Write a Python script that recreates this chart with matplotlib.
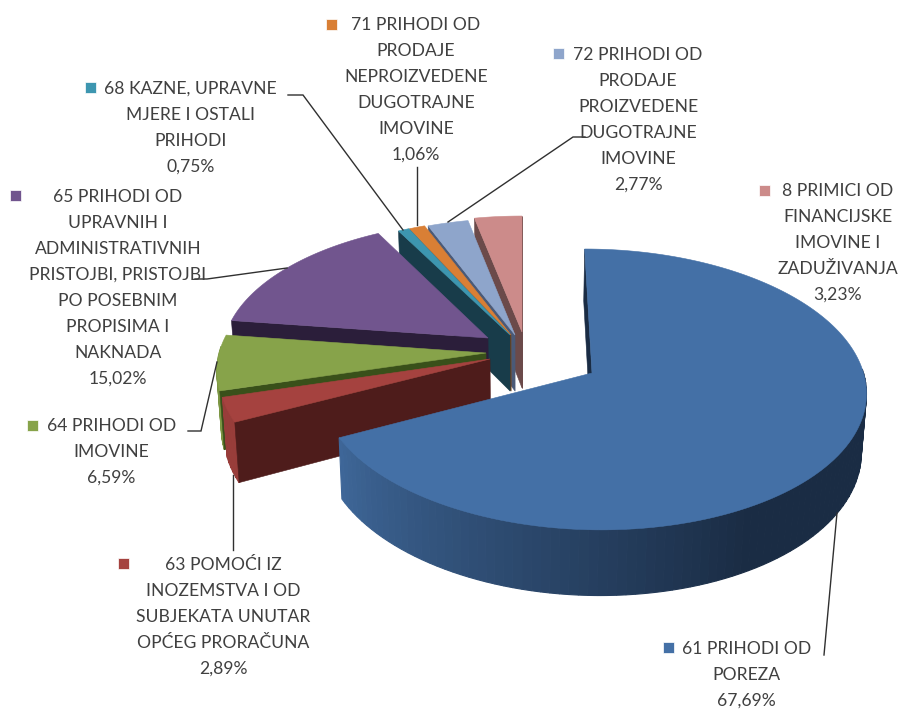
import numpy as np
import matplotlib
matplotlib.use("Agg")
import matplotlib.pyplot as plt
from matplotlib.colors import to_rgb
from matplotlib.patches import Polygon, Rectangle

# datos del grafico
names = [
    ["61 PRIHODI OD", "POREZA"],
    ["63 POMOĆI IZ", "INOZEMSTVA I OD", "SUBJEKATA UNUTAR", "OPĆEG PRORAČUNA"],
    ["64 PRIHODI OD", "IMOVINE"],
    ["65 PRIHODI OD", "UPRAVNIH I", "ADMINISTRATIVNIH", "PRISTOJBI, PRISTOJBI", "PO POSEBNIM", "PROPISIMA I", "NAKNADA"],
    ["68 KAZNE, UPRAVNE", "MJERE I OSTALI", "PRIHODI"],
    ["71 PRIHODI OD", "PRODAJE", "NEPROIZVEDENE", "DUGOTRAJNE", "IMOVINE"],
    ["72 PRIHODI OD", "PRODAJE", "PROIZVEDENE", "DUGOTRAJNE", "IMOVINE"],
    ["8 PRIMICI OD", "FINANCIJSKE", "IMOVINE I", "ZADUŽIVANJA"],
]
values = [67.69, 2.89, 6.59, 15.02, 0.75, 1.06, 2.77, 3.23]

# estilo
top_colors = ["#4470a6", "#a5423f", "#87a34a", "#71558e", "#3d96b0", "#d97f35", "#8ea5cb", "#cc8b8a"]
face_colors = ["#1a2c44", "#4e1c1b", "#39501a", "#2b1e3a", "#183c4a", "#7a4519", "#4a5a78", "#6b4a4a"]
apex = [(592, 373), (490, 359), (486, 353), (488, 338), (510, 335), (511, 335), (515, 335), (522, 332)]
label_pos = [(746.5, 649), (223, 565), (111.5, 426), (118, 197), (190.5, 89), (416, 25), (638, 54.5), (838, 191)]
key_pos = [(668, 647), (123, 563), (32, 425), (15, 195), (90, 87), (331, 24), (558, 53), (764, 190)]
leaders = [
    [(837, 513), (824, 655)],
    [(233, 475), (233, 550)],
    [(217, 362), (201, 431), (188, 431)],
    [(287, 268), (207, 279), (195, 279)],
    [(288, 95), (303, 95), (403, 230)],
    [(417, 167), (417, 225)],
    [(448, 222), (573, 137), (585, 137)],
]

# proyeccion en perspectiva
VX, HY = 522.0, 373.0
RX, RY, K, DEPTH = 271.5, 138.5, 0.117, 58.0
LINE = 26.0


def project(u, v):
    s = 1.0 / (1.0 + K * v)
    return VX + RX * u * s, HY - RY * v * s, s


def unproject(x, y):
    t = (HY - y) / RY
    v = t / (1.0 - K * t)
    s = 1.0 / (1.0 + K * v)
    return (x - VX) / (RX * s), v


def drop(x, y, s):
    return VX + (x - VX) * 0.985, y + DEPTH * s


def mix(a, b, t):
    a, b = np.array(to_rgb(a)), np.array(to_rgb(b))
    return tuple(a + (b - a) * t)


fig = plt.figure(figsize=(9, 7.09), dpi=100)
ax = fig.add_axes([0, 0, 1, 1])
ax.set_xlim(0, 900)
ax.set_ylim(709, 0)
ax.axis("off")

total = sum(values)
starts = np.cumsum([0] + values[:-1]) / total * 360
ends = np.cumsum(values) / total * 360


def poly(pts, color, z, lw=0.4):
    ax.add_patch(Polygon(pts, closed=True, facecolor=color, edgecolor=color, lw=lw, zorder=z))


# de atras hacia adelante
order = [7, 6, 5, 4, 3, 2, 1, 0]
for z, i in enumerate(order):
    z = z * 10 + 1
    u0, v0 = unproject(*apex[i])
    th = np.radians(np.linspace(starts[i], ends[i], max(int(values[i] * 6), 7)))
    rim_u, rim_v = u0 + np.sin(th), v0 + np.cos(th)
    ax_x, ax_y, ax_s = project(u0, v0)
    xs, ys, ss = project(rim_u, rim_v)
    bx, by = drop(xs, ys, ss)
    abx, aby = drop(ax_x, ax_y, ax_s)

    # borde exterior con degradado
    for j in range(0, len(th) - 1, 3):
        if np.cos(th[j]) > 0.03:
            continue
        k = min(j + 3, len(th) - 1)
        t = np.clip((np.degrees(th[j]) - 150) / 93, 0, 1)
        col = mix(face_colors[i], mix(top_colors[i], "#000000", 0.08), t)
        pts = list(zip(xs[j:k + 1], ys[j:k + 1])) + list(zip(bx[j:k + 1], by[j:k + 1]))[::-1]
        poly(pts, col, z, lw=0.8)

    # caras radiales
    poly([(ax_x, ax_y), (xs[0], ys[0]), (bx[0], by[0]), (abx, aby)], face_colors[i], z + 1)
    if np.sin(th[-1]) > -0.01:
        poly([(ax_x, ax_y), (xs[-1], ys[-1]), (bx[-1], by[-1]), (abx, aby)], face_colors[i], z + 1)

    # cara superior
    poly([(ax_x, ax_y)] + list(zip(xs, ys)), top_colors[i], z + 2)

# lineas guia
for line in leaders:
    lx, ly = zip(*line)
    ax.plot(lx, ly, color="#303030", lw=1.0, zorder=200, solid_joinstyle="miter")

# etiquetas
for i in range(len(values)):
    lines = names[i] + [f"{values[i]:.2f}%".replace(".", ",")]
    x, y = label_pos[i]
    for n, txt in enumerate(lines):
        ax.text(x, y + n * LINE, txt, ha="center", va="center", fontsize=12.6, family="Lato", color="#404040", zorder=210)
    kx, ky = key_pos[i]
    ax.add_patch(Rectangle((kx - 5.5, ky - 5.5), 11, 11, facecolor=top_colors[i], edgecolor="white", lw=0.5, zorder=210))

fig.savefig("out.png", dpi=100)
